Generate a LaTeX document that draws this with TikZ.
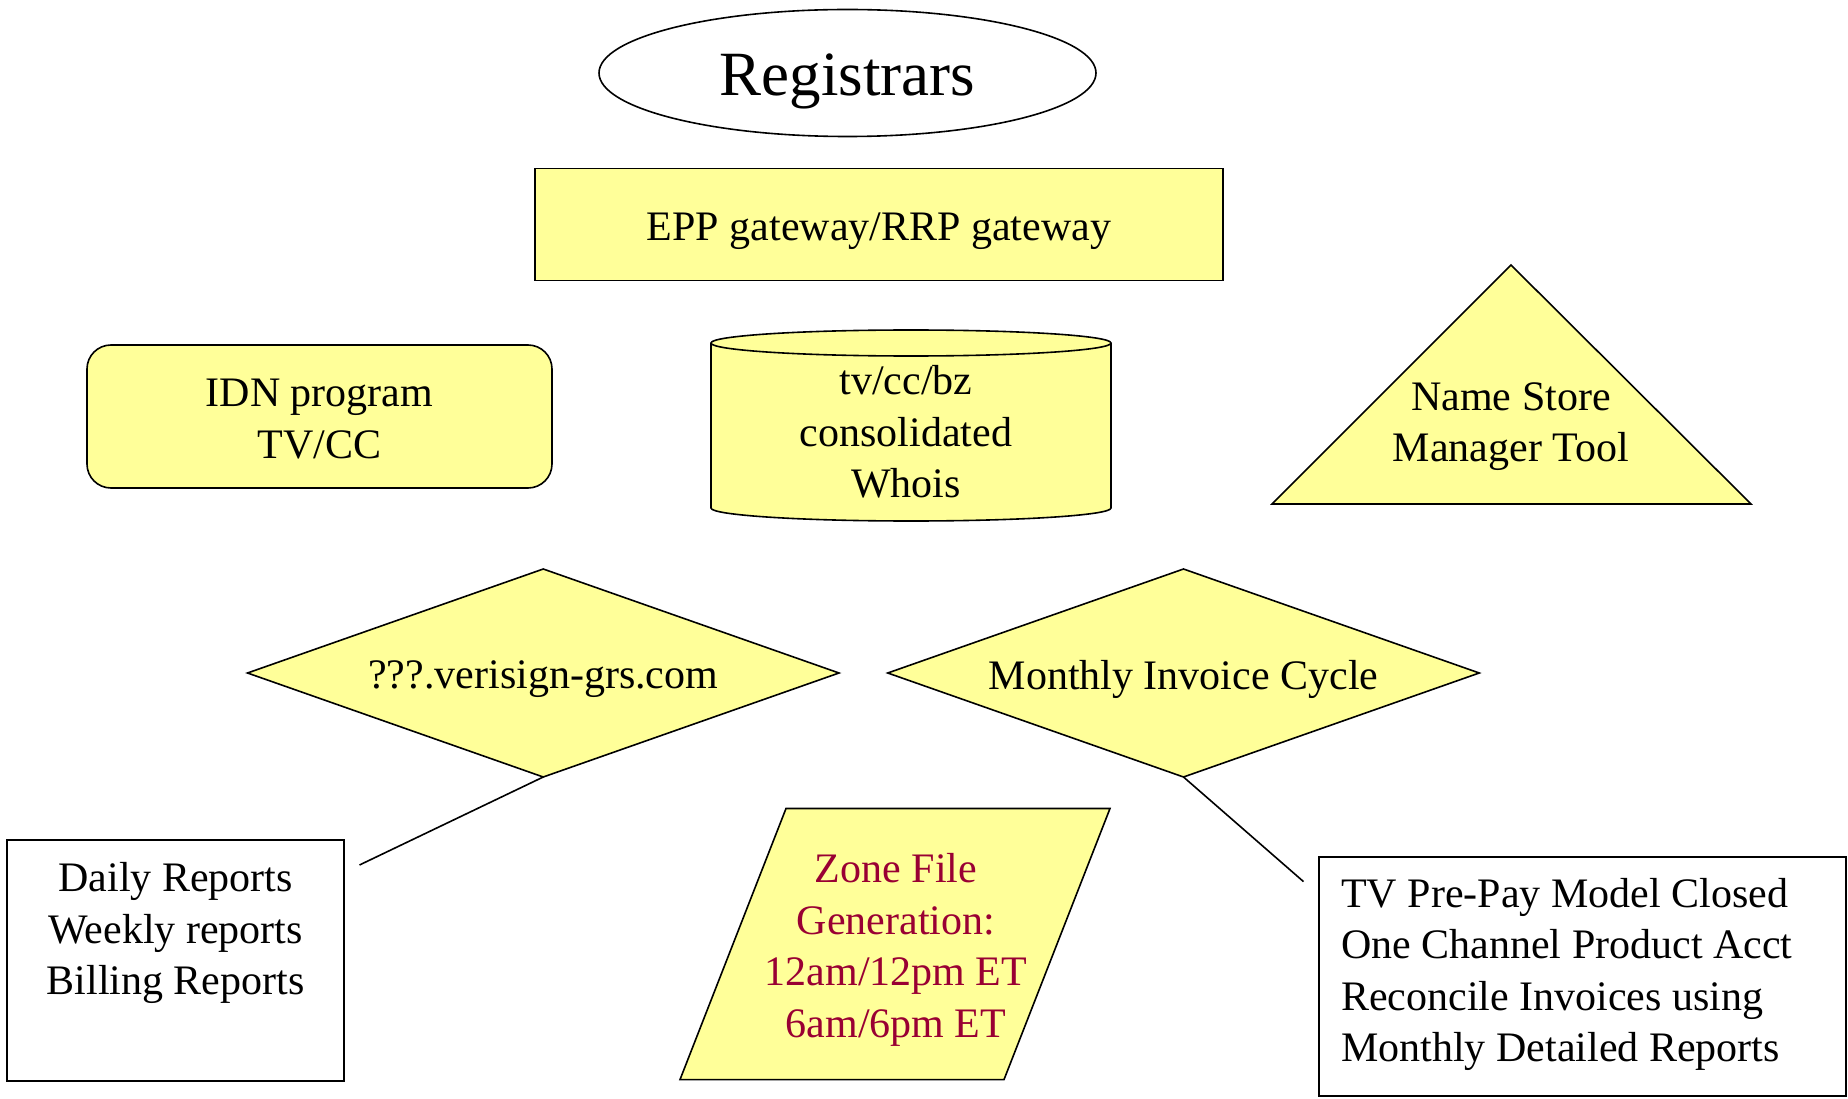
\documentclass[tikz,border=0pt]{standalone}
\usepackage{fontspec}
\setmainfont{Liberation Serif}
\usetikzlibrary{shapes.geometric}
\definecolor{shapeyellow}{RGB}{255,255,153}
\definecolor{zonered}{RGB}{153,0,51}
\tikzset{
  lbl/.style={font=\fontsize{42}{51.6}\selectfont, align=center, inner sep=0pt},
  outline/.style={draw=black, line width=1.6pt},
  ybox/.style={outline, fill=shapeyellow},
  conn/.style={draw=black, line width=1.6pt},
}
\begin{document}
\begin{tikzpicture}[x=1pt,y=-1pt]
\useasboundingbox[fill=white] (0,0) rectangle (1848,1099);

% Registrars
\node[ellipse, outline, minimum width=497pt, minimum height=127pt, inner sep=0pt] (reg) at (847.5,73) {};
\node[inner sep=0pt, font=\fontsize{63}{75}\selectfont] (regtxt) at (847.5,81) {Registrars};

% EPP gateway
\node[rectangle, ybox, minimum width=688pt, minimum height=112pt] (epp) at (879,224.5) {};
\node[lbl] (epptxt) at (879,231) {EPP gateway/RRP gateway};

% IDN program
\node[rectangle, ybox, rounded corners=24pt, minimum width=465pt, minimum height=143pt] (idn) at (319.5,416.5) {};
\node[lbl] (idntxt) at (319.5,419) {IDN program\\TV/CC};

% cylinder
\path[ybox] (711,343) -- (711,508) arc[start angle=180, end angle=360, x radius=200pt, y radius=13pt]
  -- (1111,343) arc[start angle=0, end angle=180, x radius=200pt, y radius=13pt] -- cycle;
\draw[outline] (711,343) arc[start angle=180, end angle=360, x radius=200pt, y radius=13pt];
\node[lbl] (whois) at (906,432) {tv/cc/bz\\consolidated\\Whois};

% triangle
\path[ybox] (1511,265) -- (1751,504) -- (1272,504) -- cycle;
\node[lbl] (nsm) at (1511,426.5) {Name Store\\Manager Tool};

% diamonds
\path[ybox] (247.5,673) -- (543.25,569) -- (839,673) -- (543.25,777) -- cycle;
\coordinate (d1b) at (543.25,777);
\node[lbl] (d1) at (543.25,679) {???.verisign-grs.com};
\path[ybox] (887.75,673) -- (1183.5,569) -- (1479.25,673) -- (1183.5,777) -- cycle;
\coordinate (d2b) at (1183.5,777);
\node[lbl] (d2) at (1183.5,679) {Monthly Invoice Cycle};

% connectors
\coordinate (e1) at (359.5,865);
\coordinate (e2) at (1303.5,881.6);
\draw[conn] (d1b) -- (e1);
\draw[conn] (d2b) -- (e2);

% daily reports box
\node[rectangle, outline, fill=white, minimum width=337pt, minimum height=241pt] (daily) at (175.5,960.5) {};
\node[lbl] (dailytxt) at (175.6,933) {Daily Reports\\Weekly reports\\Billing Reports};

% zone file parallelogram
\path[ybox] (786,808.5) -- (1110,808.5) -- (1004,1079.6) -- (680,1079.6) -- cycle;
\node[lbl, text=zonered] (zone) at (896,950) {Zone File\\Generation:\\12am/12pm ET\\6am/6pm ET};

% TV box
\node[rectangle, outline, fill=white, minimum width=527pt, minimum height=239pt] (tv) at (1582.5,976.5) {};
\node[lbl, align=left, anchor=west] (tvtxt) at (1341,974.5) {TV Pre-Pay Model Closed\\One Channel Product Acct\\Reconcile Invoices using\\Monthly Detailed Reports};
\end{tikzpicture}
\end{document}
